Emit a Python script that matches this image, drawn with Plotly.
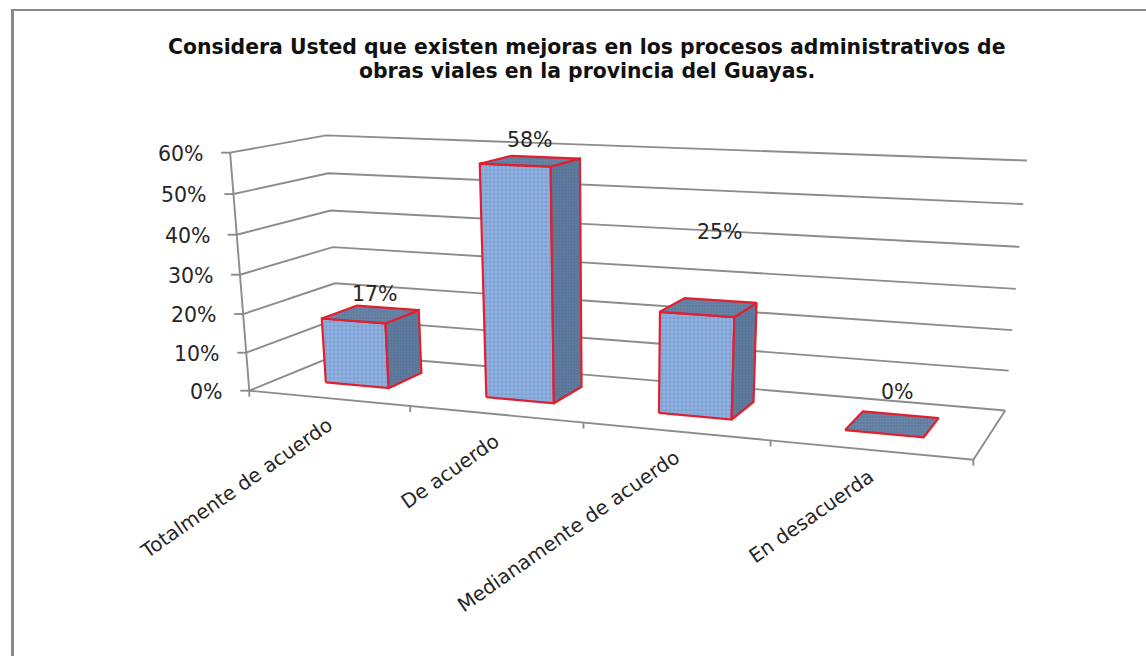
import numpy as np
import plotly.graph_objects as go

# Survey results
CATEGORIES = ["Totalmente de acuerdo", "De acuerdo", "Medianamente de acuerdo", "En desacuerda"]
VALUES = [17, 58, 25, 0]
VALUE_LABELS = ["17%", "58%", "25%", "0%"]
Y_TICKS = [0, 10, 20, 30, 40, 50, 60]
Y_TICK_LABELS = ["0%", "10%", "20%", "30%", "40%", "50%", "60%"]
TITLE_LINES = ["Considera Usted que existen mejoras en los procesos administrativos de",
               "obras viales en la provincia del Guayas."]

# Placement of each value label relative to its bar: height in percent units, sideways in categories
LABEL_LIFT = [5.5, 5, 18.3, 8]
LABEL_SHIFT = [0.035, 0.0, 0.05, 0.015]

# Perspective camera: (category position, percent, depth) to page pixels
CAMERA = np.array([
    [146.2232621, -0.5118475, 121.8139908, 249.3120211],
    [0.8305088, -4.0950521, -3.6829172, 390.7131954],
    [-0.0357358, -0.0008339, 0.0940141, 1.0],
])

BAR_LEFT, BAR_RIGHT = 0.30, 0.70
BAR_FRONT, BAR_BACK = 0.32, 0.72

GRID = "#8c8c8c"
EDGE = "#e0202e"
INK = "#262626"
FONT = "DejaVu Sans"


def project(c, v, d):
    h = CAMERA @ np.array([c, v, d, 1.0])
    return h[0] / h[2], h[1] / h[2]


def polyline(points):
    xy = [project(*p) for p in points]
    return [p[0] for p in xy], [p[1] for p in xy]


fig = go.Figure()


def add_line(points, color=GRID, width=1.9):
    x, y = polyline(points)
    fig.add_trace(go.Scatter(x=x, y=y, mode="lines", hoverinfo="skip",
                             line=dict(color=color, width=width)))


def add_face(points, bg, fg, size, solidity):
    x, y = polyline(points + points[:1])
    fig.add_trace(go.Scatter(
        x=x, y=y, mode="lines", fill="toself", hoverinfo="skip",
        fillcolor=bg,
        fillpattern=dict(shape=".", bgcolor=bg, fgcolor=fg, size=size, solidity=solidity),
        line=dict(color=EDGE, width=2.2),
    ))


# Walls and floor of the 3D frame
n_cat = len(CATEGORIES)
for tick in Y_TICKS:
    add_line([(0, tick, 0), (0, tick, 1), (n_cat, tick, 1)])
    x0, y0 = project(0, tick, 0)
    fig.add_trace(go.Scatter(x=[x0, x0 - 9], y=[y0, y0], mode="lines", hoverinfo="skip",
                             line=dict(color=GRID, width=1.9)))
add_line([(0, 0, 0), (0, Y_TICKS[-1], 0)])
add_line([(0, 0, 0), (n_cat, 0, 0), (n_cat, 0, 1)])
for i in range(n_cat + 1):
    x0, y0 = project(i, 0, 0)
    fig.add_trace(go.Scatter(x=[x0, x0], y=[y0, y0 + 6], mode="lines", hoverinfo="skip",
                             line=dict(color=GRID, width=1.9)))

# Bars, one box per category
for i, val in enumerate(VALUES):
    l, r = i + BAR_LEFT, i + BAR_RIGHT
    f, b = BAR_FRONT, BAR_BACK
    if val > 0:
        add_face([(l, 0, f), (r, 0, f), (r, val, f), (l, val, f)], "#8fb1e0", "#6c90c8", 4, 0.45)
        add_face([(r, 0, f), (r, 0, b), (r, val, b), (r, val, f)], "#5f7b9e", "#4f6a8c", 3, 0.4)
    add_face([(l, val, f), (r, val, f), (r, val, b), (l, val, b)], "#5f7b9e", "#7d97b8", 3, 0.4)

annotations = []

# Value labels
for i, (val, text) in enumerate(zip(VALUES, VALUE_LABELS)):
    x, y = project(i + 0.5 + LABEL_SHIFT[i], val + LABEL_LIFT[i], (BAR_FRONT + BAR_BACK) / 2)
    annotations.append(dict(x=x, y=y, xref="x", yref="y", text=text, showarrow=False,
                            font=dict(family=FONT, size=20.5, color=INK)))

# Percent axis labels
for tick, text in zip(Y_TICKS, Y_TICK_LABELS):
    x, y = project(0, tick, 0)
    annotations.append(dict(x=x - 24, y=y + 1, xref="x", yref="y", text=text, showarrow=False,
                            xanchor="right", font=dict(family=FONT, size=20.5, color=INK)))

# Slanted category labels
for i, text in enumerate(CATEGORIES):
    x, y = project(i + 0.5, 0, 0)
    annotations.append(dict(x=x + 11, y=y + 12, xref="x", yref="y", text=text, showarrow=False,
                            textangle=-35, xanchor="right", yanchor="top",
                            font=dict(family=FONT, size=19.8, color=INK)))

# Two-line heading, with each line placed on its own for tighter leading
for line, y in zip(TITLE_LINES, [47, 71]):
    annotations.append(dict(x=587, y=y, xref="x", yref="y", showarrow=False,
                            text=f"<b>{line}</b>",
                            font=dict(family=FONT, size=20.4, color="#111111")))

fig.update_layout(
    width=1146, height=656, margin=dict(l=0, r=0, t=0, b=0),
    paper_bgcolor="white", plot_bgcolor="white", showlegend=False,
    xaxis=dict(range=[0, 1146], visible=False, fixedrange=True),
    yaxis=dict(range=[656, 0], visible=False, fixedrange=True),
    annotations=annotations,
    shapes=[
        dict(type="line", xref="x", yref="y", x0=12.5, x1=12.5, y0=9, y1=656,
             line=dict(color="#8a8a8a", width=3)),
        dict(type="line", xref="x", yref="y", x0=11, x1=1146, y0=10, y1=10,
             line=dict(color="#8a8a8a", width=2)),
    ],
)

fig.write_html("out.html", config=dict(displayModeBar=False))
